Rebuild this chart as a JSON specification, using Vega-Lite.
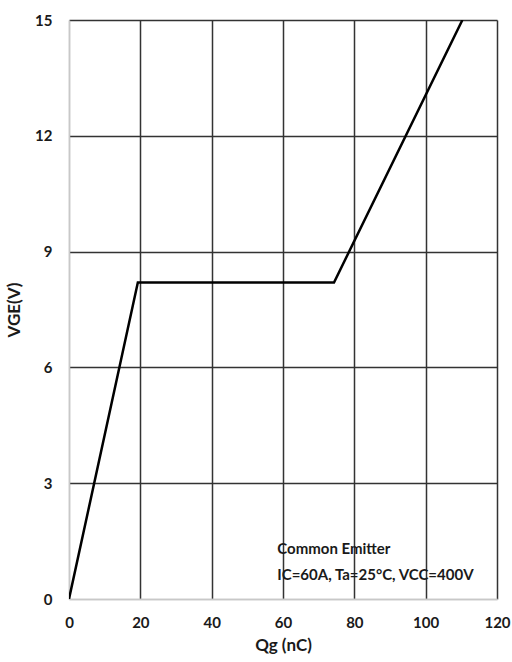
{
  "$schema": "https://vega.github.io/schema/vega-lite/v6.json",
  "autosize": "none",
  "width": 428,
  "height": 579,
  "padding": {"left": 69, "top": 20, "right": 15, "bottom": 63},
  "background": "white",
  "config": {
    "view": {"stroke": null},
    "font": "Lato",
    "axis": {
      "labelFont": "Lato",
      "labelFontSize": 15,
      "labelFontWeight": "bold",
      "labelColor": "#1a1a1a",
      "labelFlush": false,
      "titleFont": "Lato",
      "titleFontSize": 17,
      "titleFontWeight": "bold",
      "titleColor": "#1a1a1a",
      "gridColor": "#333333",
      "gridWidth": 1.5,
      "gridOpacity": 1,
      "domainColor": "#c8c8c8",
      "domainWidth": 1.5,
      "ticks": false
    }
  },
  "layer": [
    {
      "data": {"values": [
        {"q": 0, "v": 0},
        {"q": 19.3, "v": 8.2},
        {"q": 74.3, "v": 8.2},
        {"q": 110.3, "v": 15}
      ]},
      "mark": {"type": "line", "color": "#000000", "strokeWidth": 2.5, "clip": true},
      "encoding": {
        "x": {"field": "q", "type": "quantitative", "scale": {"domain": [0, 120], "nice": false},
              "axis": {"values": [0, 20, 40, 60, 80, 100, 120], "title": "Qg (nC)", "labelPadding": 16, "titlePadding": 7,
                       "gridColor": {"condition": {"test": "datum.value === 0", "value": "#c8c8c8"}, "value": "#333333"}}},
        "y": {"field": "v", "type": "quantitative", "scale": {"domain": [0, 15], "nice": false},
              "axis": {"values": [0, 3, 6, 9, 12, 15], "title": "VGE(V)", "labelPadding": 17, "titlePadding": 11,
                       "gridColor": {"condition": {"test": "datum.value === 0", "value": "#c8c8c8"}, "value": "#333333"}}}
      }
    },
    {
      "data": {"values": [
        {"q": 58.4, "v": 1.3, "t": "Common Emitter"},
        {"q": 58.4, "v": 0.62, "t": "IC=60A, Ta=25°C, VCC=400V"}
      ]},
      "mark": {"type": "text", "align": "left", "baseline": "middle", "font": "Lato", "fontSize": 15, "fontWeight": "bold", "color": "#1a1a1a"},
      "encoding": {
        "x": {"field": "q", "type": "quantitative"},
        "y": {"field": "v", "type": "quantitative"},
        "text": {"field": "t"}
      }
    }
  ]
}
